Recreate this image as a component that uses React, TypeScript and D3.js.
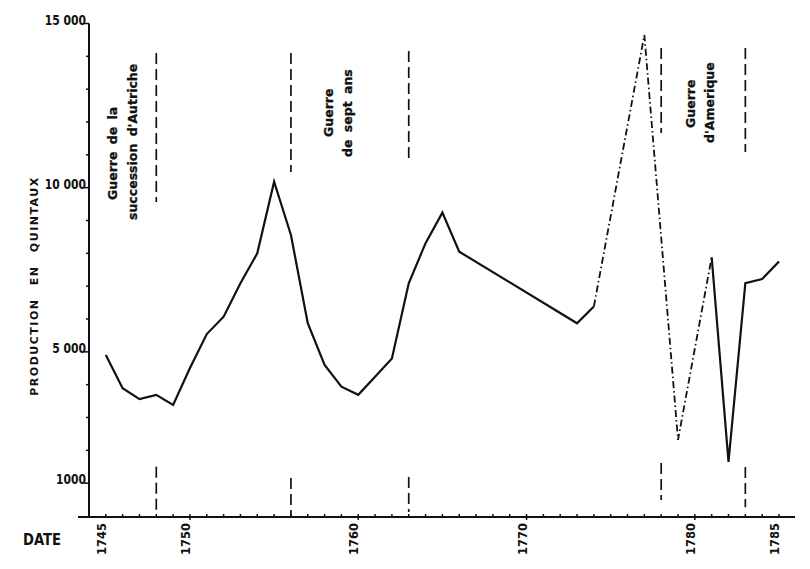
import React from "react";
import * as d3 from "d3";

// ---- data ----
const years = [
  1745, 1746, 1747, 1748, 1749, 1750, 1751, 1752, 1753, 1754, 1755, 1756,
  1757, 1758, 1759, 1760, 1761, 1762, 1763, 1764, 1765, 1766, 1773, 1774,
  1777, 1779, 1781, 1782, 1783, 1784, 1785,
];
const production = [
  4900, 3890, 3560, 3690, 3380, 4510, 5540, 6070, 7090, 8000, 10180, 8560,
  5870, 4600, 3940, 3690, 4240, 4800, 7090, 8310, 9240, 8050, 5870, 6380,
  14650, 2320, 7880, 1650, 7090, 7220, 7750,
];
// segments starting at these years are drawn dash-dot (uncertain values)
const dashDotStartYears = [1774, 1777, 1779];

const yTickValues = [1000, 5000, 10000, 15000];
const yTickLabels = ["1000", "5 000", "10 000", "15 000"];
const xTickValues = [1745, 1750, 1760, 1770, 1780, 1785];
const xTickLabels = ["1745", "1750", "1760", "1770", "1780", "1785"];

const warYears = [1748, 1756, 1763, 1778, 1783];
const warTopFrom = [14100, 14100, 14160, 14255, 14255];
const warTopTo = [9560, 10480, 10750, 11665, 11090];
const warBottomFrom = [1500, 1160, 1190, 1615, 1490];
const warBottomTo = [180, 0, 120, 490, 270];

const warLabelLines = [
  ["Guerre de la", "succession d'Autriche"],
  ["Guerre", "de sept ans"],
  ["Guerre", "d'Amerique"],
];

export default function App() {
  const W = 810;
  const H = 569;
  const x = d3.scaleLinear().domain([1745, 1785]).range([105.8, 779]);
  const y = d3.scaleLinear().domain([0, 15000]).range([516, 23.5]);

  const axisY = 517;
  const axisX = 89;

  const pts = years.map((yr, i) => [x(yr), y(production[i])] as [number, number]);
  const line = d3.line();

  const segs: { d: string; dash: boolean }[] = [];
  let cur: [number, number][] = [pts[0]];
  let curDash = dashDotStartYears.includes(years[0]);
  for (let i = 0; i < years.length - 1; i++) {
    const dash = dashDotStartYears.includes(years[i]);
    if (dash !== curDash) {
      segs.push({ d: line(cur) as string, dash: curDash });
      cur = [pts[i]];
      curDash = dash;
    }
    cur.push(pts[i + 1]);
  }
  segs.push({ d: line(cur) as string, dash: curDash });

  const minorY = d3.range(1000, 15001, 1000);
  const minorX = d3.range(1745, 1786, 1);

  const boldFont = "'DejaVu Sans', sans-serif";
  const narrowFont = "'Liberation Sans Narrow', 'DejaVu Sans Condensed', sans-serif";

  // label placements (pixel layout)
  const labelPos = [
    [
      { bx: 116.5, by: 200 },
      { bx: 136.5, by: 220 },
    ],
    [
      { bx: 333, by: 137 },
      { bx: 351.5, by: 157 },
    ],
    [
      { bx: 695, by: 128 },
      { bx: 714, by: 143 },
    ],
  ];

  return (
    <svg
      width={W}
      height={H}
      viewBox={`0 0 ${W} ${H}`}
      style={{ position: "absolute", left: 0, top: 0, background: "#fff" }}
    >
      <rect width={W} height={H} fill="#fff" />
      {/* axes */}
      <line x1={axisX} y1={y(15000)} x2={axisX} y2={axisY} stroke="#111" strokeWidth={2} />
      <line x1={78} y1={axisY} x2={795} y2={axisY} stroke="#111" strokeWidth={2} />
      {minorY.map((v) => (
        <line
          key={"yt" + v}
          x1={axisX - (yTickValues.includes(v) ? 5 : 3)}
          x2={axisX}
          y1={y(v)}
          y2={y(v)}
          stroke="#111"
          strokeWidth={1.5}
        />
      ))}
      {minorX.map((v) => (
        <line
          key={"xt" + v}
          x1={x(v)}
          x2={x(v)}
          y1={axisY - 3}
          y2={axisY + (v % 10 === 0 ? 3 : 0)}
          stroke="#111"
          strokeWidth={1.5}
        />
      ))}
      {yTickValues.map((v, i) => (
        <text
          key={"yl" + v}
          transform={`translate(86,${y(v) + 1}) scale(0.8,1)`}
          textAnchor="end"
          fontFamily={boldFont}
          fontWeight="bold"
          fontSize={13.5}
          fill="#111"
        >
          {yTickLabels[i]}
        </text>
      ))}
      {xTickValues.map((v, i) => (
        <text
          key={"xl" + v}
          transform={`translate(${x(v)},${axisY + 6}) rotate(-90)`}
          textAnchor="end"
          fontFamily={boldFont}
          fontWeight="bold"
          fontSize={11.5}
          fill="#111"
        >
          {xTickLabels[i]}
        </text>
      ))}
      <text
        transform="translate(23,545) scale(0.85,1)"
        fontFamily={boldFont}
        fontWeight="bold"
        fontSize={15.5}
        fill="#111"
      >
        DATE
      </text>
      <text
        transform={`translate(38,286) rotate(-90)`}
        textAnchor="middle"
        fontFamily={boldFont}
        fontWeight="bold"
        fontSize={11}
        letterSpacing={1.5}
        wordSpacing={8}
        fill="#111"
      >
        PRODUCTION EN QUINTAUX
      </text>

      {/* war markers */}
      {warYears.map((yr, i) => (
        <g key={"war" + yr}>
          <line
            x1={x(yr)}
            x2={x(yr)}
            y1={y(warTopFrom[i])}
            y2={y(warTopTo[i])}
            stroke="#111"
            strokeWidth={1.7}
            strokeDasharray="11 5"
          />
          <line
            x1={x(yr)}
            x2={x(yr)}
            y1={y(warBottomFrom[i])}
            y2={y(warBottomTo[i])}
            stroke="#111"
            strokeWidth={1.7}
            strokeDasharray="11 5"
          />
        </g>
      ))}
      {warLabelLines.map((lines, i) =>
        lines.map((t, j) => (
          <text
            key={"wl" + i + "_" + j}
            transform={`translate(${labelPos[i][j].bx},${labelPos[i][j].by}) rotate(-90)`}
            fontFamily={boldFont}
            fontWeight="bold"
            fontSize={12.5}
            wordSpacing={3}
            fill="#111"
            stroke="#111"
            strokeWidth={0.3}
          >
            {t}
          </text>
        ))
      )}

      {/* production line */}
      {segs.map((s, i) => (
        <path
          key={"seg" + i}
          d={s.d}
          fill="none"
          stroke="#111"
          strokeWidth={s.dash ? 1.8 : 2.2}
          strokeLinejoin="miter"
          strokeDasharray={s.dash ? "7 3 1.5 3" : undefined}
        />
      ))}
    </svg>
  );
}
